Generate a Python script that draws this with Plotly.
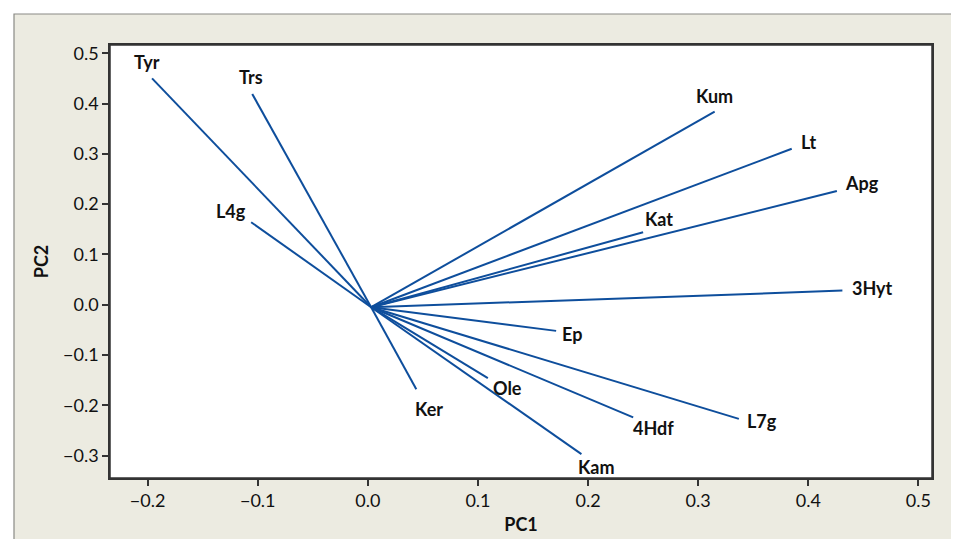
import plotly.graph_objects as go

variables = ["Tyr", "Trs", "L4g", "Kum", "Lt", "Apg", "Kat", "3Hyt",
             "Ep", "Ole", "Ker", "4Hdf", "L7g", "Kam"]
pc1 = [-0.196, -0.105, -0.106, 0.315, 0.385, 0.426, 0.250, 0.431,
       0.171, 0.109, 0.044, 0.241, 0.337, 0.194]
pc2 = [0.450, 0.419, 0.164, 0.384, 0.310, 0.226, 0.144, 0.028,
       -0.052, -0.146, -0.168, -0.224, -0.227, -0.297]
origin_x = 0.003
origin_y = -0.005

# label pixel offsets (style)
label_dx = [-5, -1, -20, 0, 17, 25, 16, 30, 16, 20, 13, 20, 23, 15]
label_dy = [16, 17, 11, 16, 7, 8, 13, 3, -3, -10, -20, -11, -2, -13]

LINE = "#0E4E9C"
FONT = "Lato, 'Open Sans', sans-serif"

fig = go.Figure()
xs, ys = [], []
for x, y in zip(pc1, pc2):
    xs += [origin_x, x, None]
    ys += [origin_y, y, None]
fig.add_trace(go.Scatter(x=xs, y=ys, mode="lines",
                         line=dict(color=LINE, width=2), hoverinfo="skip",
                         showlegend=False))

for name, x, y, dx, dy in zip(variables, pc1, pc2, label_dx, label_dy):
    fig.add_annotation(x=x, y=y, text="<b>%s</b>" % name, showarrow=False,
                       xshift=dx, yshift=dy,
                       font=dict(family=FONT, size=18, color="#111111"))

# page body has an 8px offset; margins compensate
OFF = 8
W, H = 959, 539
L, T = 110 - OFF, 45 - OFF
R, B = W + OFF - 932, H + OFF - 478
pw = W - L - R
ph = H - T - B

# beige outer frame
fig.add_shape(type="rect", xref="paper", yref="paper", layer="below",
              x0=(14 - OFF - L) / pw, x1=(W + 10 - L) / pw,
              y0=-(B + 10) / ph, y1=(H - B - (14 - OFF)) / ph,
              fillcolor="#ECEBE1", line=dict(color="#8A8A85", width=1.2))
# white plot panel
fig.add_shape(type="rect", xref="paper", yref="paper", layer="below",
              x0=0, x1=1, y0=0, y1=1,
              fillcolor="white", line=dict(color="#333333", width=1.5))

axis_common = dict(showgrid=False, zeroline=False, showline=True,
                   linecolor="#333333", linewidth=1.5, mirror=True,
                   ticks="outside", ticklen=6, tickwidth=1.5,
                   tickcolor="#333333", tickformat=".1f", dtick=0.1,
                   tickfont=dict(family=FONT, size=18, color="#111111"))

fig.update_xaxes(range=[-0.2342, 0.5124], tick0=0,
                 title=dict(text="<b>PC1</b>", standoff=8,
                            font=dict(family=FONT, size=18, color="#111111")),
                 **axis_common)
fig.update_yaxes(range=[-0.3445, 0.5163], tick0=0,
                 title=dict(text="<b>PC2</b>", standoff=10,
                            font=dict(family=FONT, size=18, color="#111111")),
                 **axis_common)

fig.update_layout(width=W, height=H,
                  margin=dict(l=L, r=R, t=T, b=B, pad=0),
                  paper_bgcolor="white", plot_bgcolor="rgba(0,0,0,0)",
                  showlegend=False)

fig.write_html("out.html")
